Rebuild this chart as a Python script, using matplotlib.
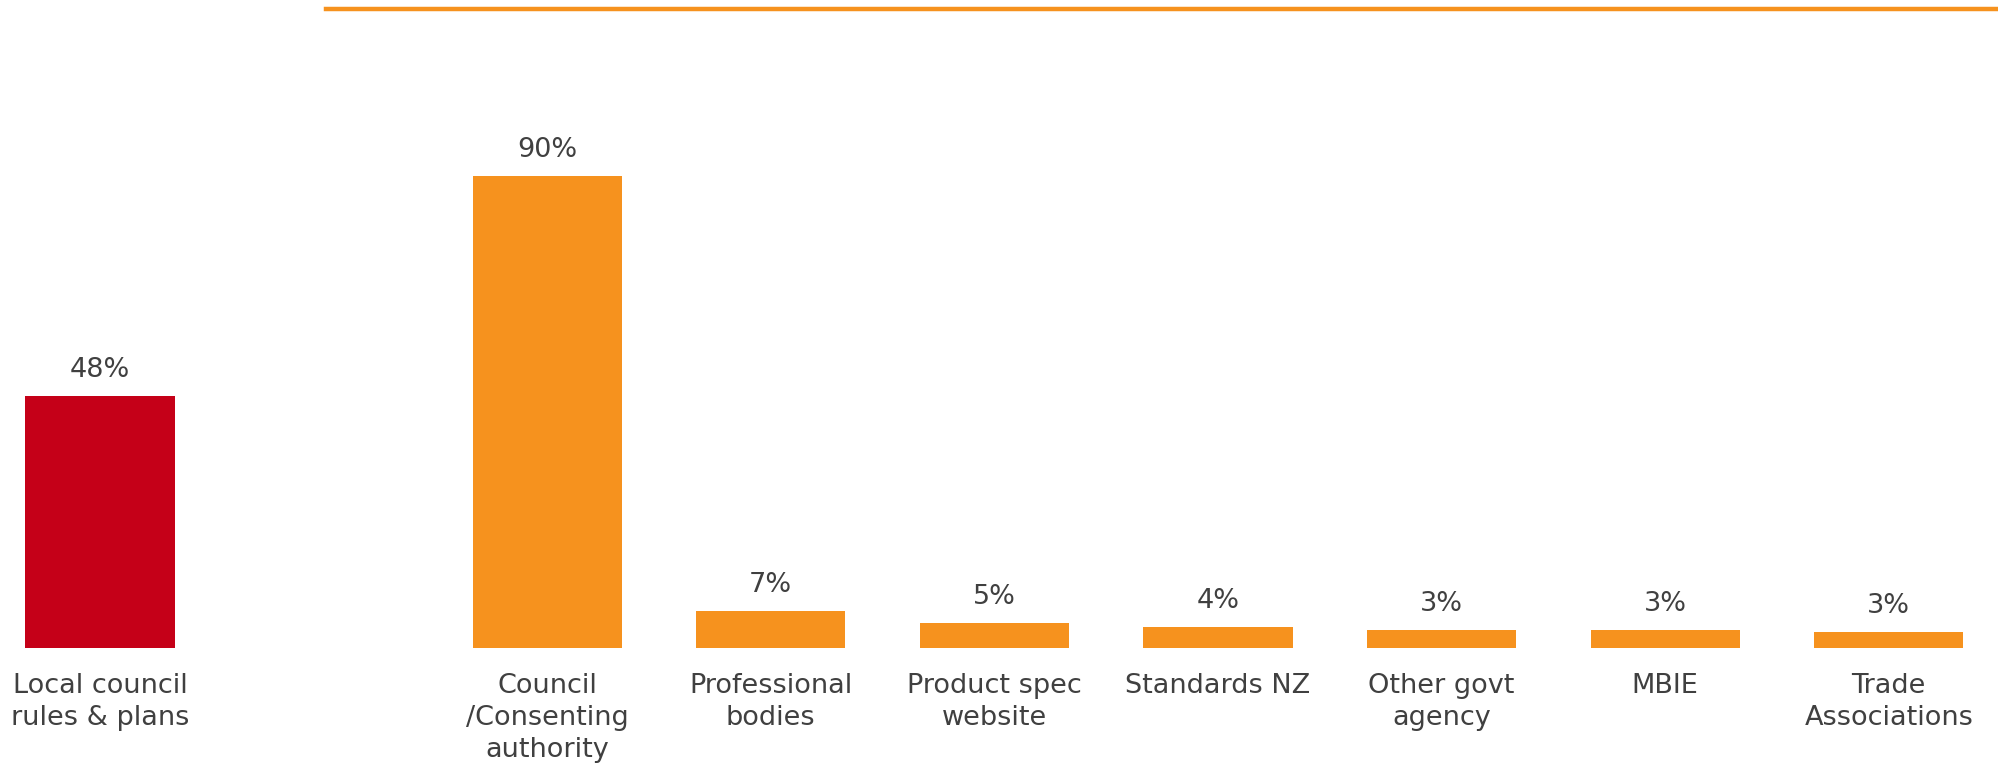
import matplotlib.pyplot as plt
import numpy as np
from matplotlib.lines import Line2D

# Where people look for building guidance: headline item, then individual sources
CATEGORIES = [
    "Local council\nrules & plans",
    "Council\n/Consenting\nauthority",
    "Professional\nbodies",
    "Product spec\nwebsite",
    "Standards NZ",
    "Other govt\nagency",
    "MBIE",
    "Trade\nAssociations",
]
VALUES = [48, 90, 7.1, 4.8, 4.0, 3.4, 3.4, 3.0]

RED = "#c50018"
ORANGE = "#f6921e"
TEXT = "#404040"

W, H, DPI = 1998, 765, 100

fig = plt.figure(figsize=(W / DPI, 7.649), dpi=DPI)
base_px = 116
ax = fig.add_axes([0, base_px / H, 1, (H - base_px) / H])

# first bar stands apart from the rest: leave an empty slot after it
idx = np.arange(len(VALUES))
pos = idx + (idx >= 1)
colors = [RED] + [ORANGE] * (len(VALUES) - 1)

bars = ax.bar(pos, VALUES, width=0.667, color=colors, linewidth=0)
ax.bar_label(bars, labels=[f"{v:.0f}%" for v in VALUES], padding=10,
             fontsize=19.5, color=TEXT)

ax.set_xlim(-100 / 223.6, (W - 100) / 223.6)
ax.set_ylim(0, (H - base_px) / 5.25)

ax.set_xticks(pos)
ax.set_xticklabels(CATEGORIES, fontsize=19.5, color=TEXT, linespacing=1.32)
ax.tick_params(axis="x", length=0, pad=17)
ax.set_yticks([])
for s in ax.spines.values():
    s.set_visible(False)

# orange rule across the top of the right-hand group
fig.add_artist(Line2D([326 / W, 1], [1 - 9.5 / H, 1 - 9.5 / H],
                      color=ORANGE, linewidth=3.2, transform=fig.transFigure))

fig.savefig("out.png", dpi=DPI, facecolor="white")
